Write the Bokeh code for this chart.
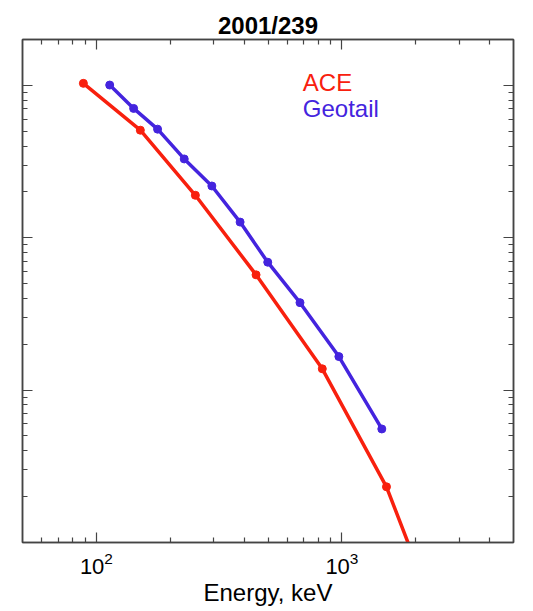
from bokeh.plotting import figure
from bokeh.models import LogAxis, FixedTicker, Label, Range1d, LogTickFormatter
from bokeh.embed import file_html
from bokeh.resources import INLINE

# Data
ace_energy = [88.5, 151, 253, 447, 832, 1519, 2500]
ace_flux = [1031, 508, 190, 57.1, 13.8, 2.32, 0.29]
geo_energy = [113.3, 141.8, 177.5, 227.9, 295.3, 384.9, 498.8, 675, 972, 1454]
geo_flux = [1005, 706, 516, 329, 218.6, 126.7, 69.1, 37.5, 16.6, 5.56]

x_major = [100, 1000]
x_minor = [60, 70, 80, 90, 200, 300, 400, 500, 600, 700, 800, 900, 2000, 3000, 4000]
y_major = [10, 100, 1000]
y_minor = [2, 3, 4, 5, 6, 7, 8, 9, 20, 30, 40, 50, 60, 70, 80, 90,
           200, 300, 400, 500, 600, 700, 800, 900]

RED = "#f8200e"
BLUE = "#4424de"
FONT = "Liberation Sans"

p = figure(width=533, height=611, x_axis_type="log", y_axis_type="log",
           x_range=Range1d(50, 5000), y_range=Range1d(1, 2000),
           output_backend="svg", toolbar_location=None,
           min_border_left=22, min_border_right=20,
           min_border_top=39, min_border_bottom=69)

p.title.text = "2001/239"
p.title.align = "center"
p.title.text_font = FONT
p.title.text_font_size = "24px"
p.title.text_font_style = "bold"
p.title.text_color = "black"
p.title.standoff = 2

p.grid.visible = False
p.outline_line_color = "#444444"
p.outline_line_width = 1.5

def style_axis(ax, ticks, minor, show_labels):
    ax.ticker = FixedTicker(ticks=ticks, minor_ticks=minor)
    ax.major_tick_in = 10
    ax.major_tick_out = 0
    ax.minor_tick_in = 5
    ax.minor_tick_out = 0
    ax.axis_line_color = "#444444"
    ax.axis_line_width = 1.5
    ax.major_tick_line_color = "#444444"
    ax.minor_tick_line_color = "#444444"
    ax.major_tick_line_width = 1.2
    ax.minor_tick_line_width = 1.2
    if not show_labels:
        ax.major_label_text_font_size = "1px"
        ax.major_label_text_alpha = 0
        ax.major_label_standoff = 0

# bottom x axis
xa = p.xaxis[0]
style_axis(xa, x_major, x_minor, True)
xa.formatter = LogTickFormatter()
xa.major_label_text_font = FONT
xa.major_label_text_font_size = "22px"
xa.major_label_text_color = "black"
xa.major_label_standoff = 9
xa.axis_label = "Energy, keV"
xa.axis_label_text_font = FONT
xa.axis_label_text_font_size = "24px"
xa.axis_label_text_font_style = "normal"
xa.axis_label_text_color = "black"
xa.axis_label_standoff = 2

# left y axis
ya = p.yaxis[0]
style_axis(ya, y_major, y_minor, False)

# top and right mirrored axes
top = LogAxis()
style_axis(top, x_major, x_minor, False)
p.add_layout(top, "above")
right = LogAxis()
style_axis(right, y_major, y_minor, False)
p.add_layout(right, "right")

p.line(ace_energy, ace_flux, line_color=RED, line_width=3.5)
p.scatter(ace_energy, ace_flux, size=8, color=RED)
p.line(geo_energy, geo_flux, line_color=BLUE, line_width=3.5)
p.scatter(geo_energy, geo_flux, size=8, color=BLUE)

p.add_layout(Label(x=693, y=1051, text="ACE", text_color=RED,
                   text_font=FONT, text_font_size="24px", text_baseline="alphabetic"))
p.add_layout(Label(x=693, y=709, text="Geotail", text_color=BLUE,
                   text_font=FONT, text_font_size="24px", text_baseline="alphabetic"))

open("out.html", "w").write(file_html(p, INLINE))
